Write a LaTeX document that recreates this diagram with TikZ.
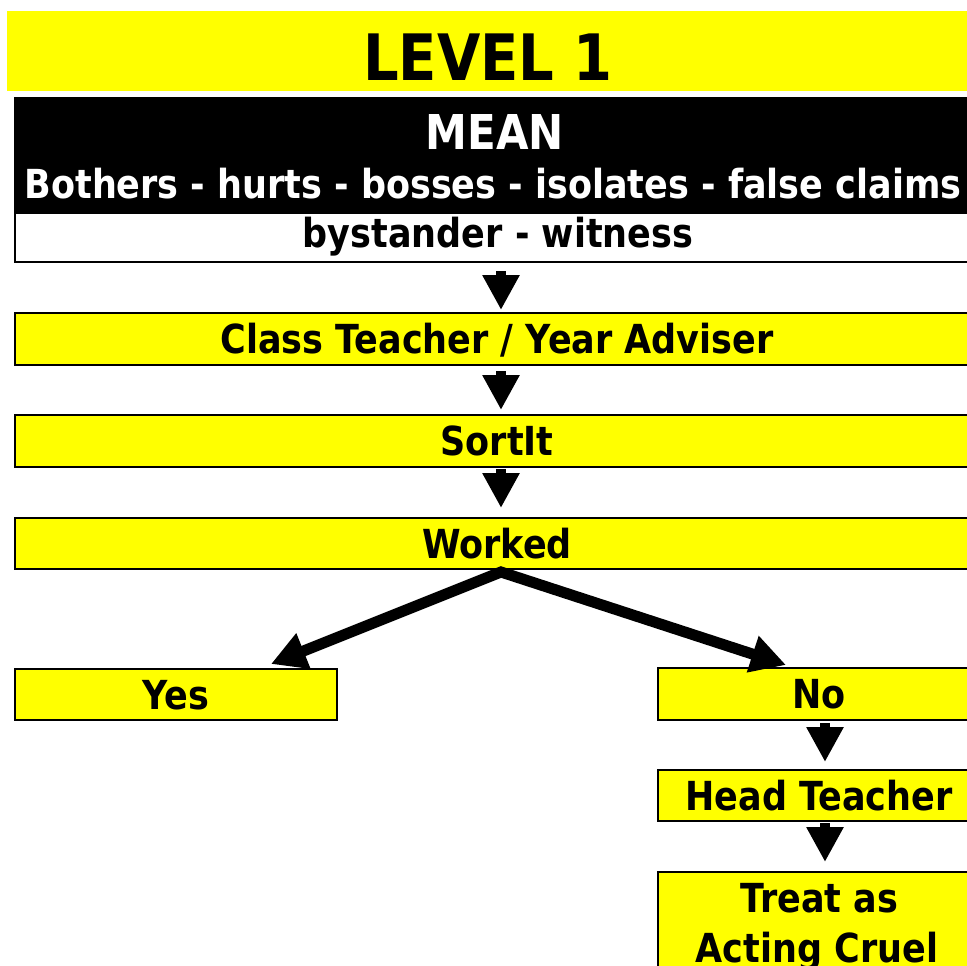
\documentclass[tikz,border=0pt]{standalone}
\usepackage{fontspec}
\newfontfamily\tfont[FakeStretch=0.875]{DejaVu Sans}
\usetikzlibrary{arrows.meta}
\definecolor{ybright}{RGB}{255,255,0}
\begin{document}
\begin{tikzpicture}[x=1pt,y=1pt,
  txt/.style={font=\tfont\bfseries\fontsize{40}{50}\selectfont, inner sep=0pt},
  ybox/.style={draw=black, line width=2pt, fill=ybright, rectangle, inner sep=0pt,
    text height=29.2pt, text depth=0pt, anchor=north west,
    font=\tfont\bfseries\fontsize{40}{50}\selectfont},
  flowarrow/.style={line width=10pt, line cap=butt, -{Triangle[width=35pt,length=35pt]}},
  brancharrow/.style={line width=11pt, line cap=butt, line join=miter,
    {Triangle[width=36pt,length=35pt]}-{Triangle[width=36pt,length=35pt]}},
]
\useasboundingbox (0,0) rectangle (967,-966);
\clip (0,0) rectangle (967,-966);
\fill[white] (0,0) rectangle (967,-966);

% title band
\node[fill=ybright, rectangle, inner sep=0pt, minimum width=980pt, minimum height=80pt, anchor=north west] (title) at (7,-11) {};
\node[txt, anchor=base, font=\tfont\bfseries\fontsize{64}{70}\selectfont] (level) at (488,-81) {LEVEL 1};

% black box
\node[fill=black, rectangle, inner sep=0pt, minimum width=964pt, minimum height=115pt, anchor=north west] (mean) at (14,-97) {};
\node[txt, anchor=base, text=white, font=\tfont\bfseries\fontsize{48}{56}\selectfont] (meantxt) at (495,-149) {MEAN};
\node[txt, anchor=base, text=white] (bothers) at (493,-198) {Bothers - hurts - bosses - isolates - false claims};

% white box
\node[draw=black, line width=2pt, fill=white, rectangle, inner sep=0pt, minimum width=964pt, minimum height=49pt, anchor=north west] (bys) at (14,-212) {};
\node[txt, anchor=base] (bystxt) at (498,-247) {bystander - witness};

% main chain
\node[ybox, minimum width=964pt, minimum height=52pt] (ct) at (14,-312) {Class Teacher / Year Adviser};
\node[ybox, minimum width=964pt, minimum height=52pt] (sortit) at (14,-414) {SortIt};
\node[ybox, minimum width=964pt, minimum height=51pt] (worked) at (14,-517) {Worked};

\node[ybox, minimum width=322pt, minimum height=51pt] (yes) at (14,-668) {Yes};
\node[ybox, minimum width=322pt, minimum height=52pt] (no) at (657,-667) {No};
\node[ybox, minimum width=322pt, minimum height=51pt] (head) at (657,-769) {Head Teacher};
\node[ybox, minimum width=322pt, minimum height=160pt] (treat) at (657,-871) {};
\node[txt, anchor=base] (treat1) at (819,-912) {Treat as};
\node[txt, anchor=base] (treat2) at (817,-962) {Acting Cruel};

% arrows
\draw[flowarrow, shorten <=8pt, shorten >=2pt] ([xshift=4pt]bys.south) -- ([xshift=4pt]ct.north);
\draw[flowarrow, shorten <=5pt, shorten >=4pt] ([xshift=4pt]ct.south) -- ([xshift=4pt]sortit.north);
\draw[flowarrow, shorten <=1pt, shorten >=9pt] ([xshift=4pt]sortit.south) -- ([xshift=4pt]worked.north);
\draw[brancharrow] ([xshift=95pt,yshift=4pt]yes.north) -- ([xshift=4pt,yshift=-2pt]worked.south) -- ([xshift=-33pt,yshift=2pt]no.north);
\draw[flowarrow, shorten <=2pt, shorten >=7pt] ([xshift=6pt]no.south) -- ([xshift=6pt]head.north);
\draw[flowarrow, shorten <=1pt, shorten >=9pt] ([xshift=6pt]head.south) -- ([xshift=6pt]treat.north);
\end{tikzpicture}
\end{document}
